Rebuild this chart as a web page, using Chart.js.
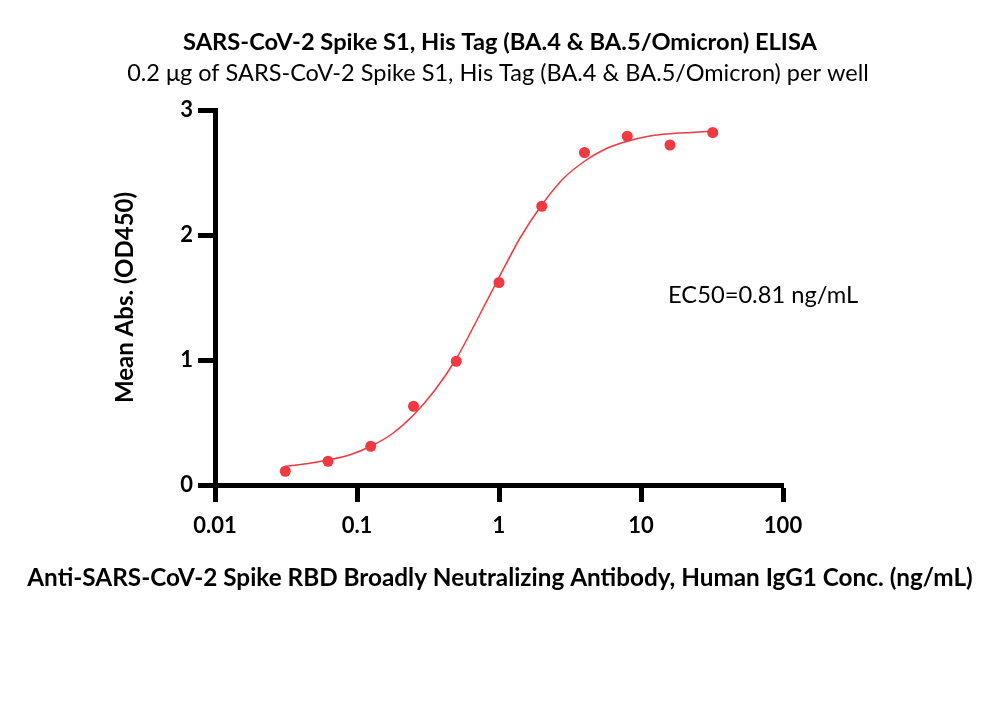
<!DOCTYPE html>
<html>
<head>
<meta charset="utf-8">
<script src="https://cdn.jsdelivr.net/npm/chart.js@4.4.1/dist/chart.umd.min.js"></script>
<style>
  html, body { margin: 0; padding: 0; background: #fff; }
  #chart { display: block; }
</style>
</head>
<body>
<canvas id="chart" width="1000" height="713"></canvas>
<script>
// measured points: concentration (ng/mL) vs mean absorbance
const conc    = [0.03125, 0.0625, 0.125, 0.25, 0.5, 1, 2, 4, 8, 16, 32]
const meanAbs = [0.11, 0.19, 0.31, 0.63, 0.99, 1.62, 2.23, 2.66, 2.79, 2.72, 2.82]

// fitted curve
const fitConc = [0.03125, 0.0442, 0.0625, 0.0884, 0.125, 0.177, 0.25, 0.354, 0.5, 0.707,
                 1, 1.414, 2, 2.83, 4, 5.66, 8, 11.3, 16, 22.6, 32]
const fitAbs  = [0.15, 0.17, 0.20, 0.24, 0.31, 0.41, 0.56, 0.76, 1.01, 1.33,
                 1.66, 1.98, 2.24, 2.45, 2.59, 2.69, 2.75, 2.79, 2.81, 2.82, 2.83]

// axis ticks
const xTicks = [0.01, 0.1, 1, 10, 100]
const yTicks = [0, 1, 2, 3]

const RED  = 'rgb(238, 58, 64)'
const FONT = "Lato, 'Noto Sans', sans-serif"
const TITLE    = 'SARS-CoV-2 Spike S1, His Tag (BA.4 & BA.5/Omicron) ELISA'
const SUBTITLE = '0.2 μg of SARS-CoV-2 Spike S1, His Tag (BA.4 & BA.5/Omicron) per well'
const X_TITLE  = 'Anti-SARS-CoV-2 Spike RBD Broadly Neutralizing Antibody, Human IgG1 Conc. (ng/mL)'

// titles centred on the page, EC50 text (in data units) and the wide x-axis title
const extraText = {
  id: 'extraText',
  afterDraw (chart) {
    let ctx = chart.ctx,
        xs  = chart.scales.x,
        ys  = chart.scales.y,
        mid = chart.width / 2
    ctx.save()
    ctx.fillStyle = '#000'
    ctx.textBaseline = 'middle'
    ctx.textAlign = 'center'

    ctx.font = 'bold 23.7px ' + FONT
    ctx.fillText(TITLE, mid, 42)
    ctx.font = '23.5px ' + FONT
    ctx.fillText(SUBTITLE, mid - 2, 73)

    ctx.font = 'bold 24.3px ' + FONT
    ctx.fillText(X_TITLE, mid, xs.top + 93)

    ctx.font = '23.7px ' + FONT
    ctx.textAlign = 'left'
    ctx.fillText('EC50=0.81 ng/mL', xs.getPixelForValue(15.5), ys.getPixelForValue(1.52))
    ctx.restore()
  }
}

new Chart(document.getElementById('chart'), {
  type: 'scatter',
  data: {
    datasets: [
      {
        label                 : 'Fit',
        data                  : fitConc.map((x, i) => ({x: x, y: fitAbs[i]})),
        showLine              : true,
        borderColor           : RED,
        borderWidth           : 1.5,
        pointRadius           : 0,
        cubicInterpolationMode: 'monotone',
        order                 : 2
      },
      {
        label          : 'Mean Abs.',
        data           : conc.map((x, i) => ({x: x, y: meanAbs[i]})),
        pointRadius    : 5.5,
        backgroundColor: RED,
        borderWidth    : 0,
        order          : 1
      }
    ]
  },
  options: {
    responsive: false,
    animation : false,
    layout    : {padding: {left: 111, right: 217, top: 110, bottom: 118}},
    plugins   : {
      legend  : {display: false},
      tooltip : {enabled: false}
    },
    scales    : {
      x: {
        type  : 'logarithmic',
        min   : 0.01,
        max   : 100,
        afterBuildTicks: function (scale) {
          scale.ticks = xTicks.map(v => ({value: v}))
        },
        afterFit: function (scale) {
          scale.height = 110
        },
        ticks : {
          color   : '#000',
          font    : {family: FONT, size: 22, weight: 'bold'},
          padding : 11,
          maxRotation: 0,
          callback: function (v) { return String(v) }
        },
        grid  : {drawOnChartArea: false, tickLength: 17, tickWidth: 5, tickColor: '#000', color: '#000'},
        border: {display: true, width: 5, color: '#000'}
      },
      y: {
        min   : 0,
        max   : 3,
        afterBuildTicks: function (scale) {
          scale.ticks = yTicks.map(v => ({value: v}))
        },
        afterFit: function (scale) {
          scale.width = 104
        },
        ticks : {
          color  : '#000',
          font   : {family: FONT, size: 22, weight: 'bold'},
          padding: 5
        },
        grid  : {drawOnChartArea: false, tickLength: 17, tickWidth: 5, tickColor: '#000', color: '#000'},
        border: {display: true, width: 5, color: '#000'},
        title : {
          display: true,
          text   : 'Mean Abs. (OD450)',
          color  : '#000',
          font   : {family: FONT, size: 24, weight: 'bold'},
          padding: {top: 0, bottom: 0}
        }
      }
    }
  },
  plugins: [extraText]
})
</script>
</body>
</html>
